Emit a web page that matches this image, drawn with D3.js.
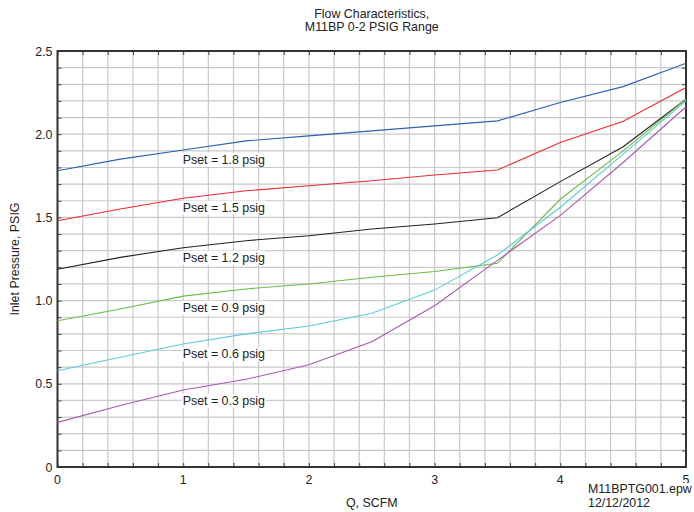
<!DOCTYPE html>
<html>
<head>
<meta charset="utf-8">
<script src="https://cdnjs.cloudflare.com/ajax/libs/d3/7.8.5/d3.min.js"></script>
<style>
  body { margin: 0; background: #fff; }
  svg text { font-family: "Liberation Sans", Arial, sans-serif; fill: #222; font-size: 12.4px; }
</style>
</head>
<body>
<div id="chart"></div>
<script>
// flow values (SCFM) where each curve was sampled
var flow = [0, 0.5, 1, 1.5, 2, 2.5, 3, 3.5, 4, 4.5, 5];

// inlet pressure per set point
var pset18 = [1.78, 1.85, 1.905, 1.96, 1.99, 2.02, 2.05, 2.08, 2.19, 2.286, 2.426];
var pset15 = [1.48, 1.55, 1.615, 1.66, 1.69, 1.72, 1.755, 1.785, 1.95, 2.078, 2.28];
var pset12 = [1.188, 1.26, 1.318, 1.36, 1.39, 1.43, 1.46, 1.498, 1.715, 1.925, 2.21];
var pset09 = [0.879, 0.95, 1.027, 1.07, 1.10, 1.14, 1.175, 1.224, 1.609, 1.90, 2.21];
var pset06 = [0.578, 0.66, 0.739, 0.80, 0.847, 0.924, 1.063, 1.274, 1.561, 1.88, 2.20];
var pset03 = [0.268, 0.37, 0.463, 0.527, 0.615, 0.753, 0.969, 1.242, 1.512, 1.83, 2.165];

var seriesNames = ["Pset = 1.8 psig", "Pset = 1.5 psig", "Pset = 1.2 psig",
                   "Pset = 0.9 psig", "Pset = 0.6 psig", "Pset = 0.3 psig"];
var seriesValues = [pset18, pset15, pset12, pset09, pset06, pset03];
var seriesColors = ["#2f5fae", "#ee2b30", "#222222", "#6cbd45", "#5ccbdc", "#a659b4"];
// where the text label sits (x, pressure)
var labelX = 1;
var labelY = [1.85, 1.562, 1.262, 0.96, 0.68, 0.40];

var xTicks = [0, 1, 2, 3, 4, 5];
var yTicks = [0, 0.5, 1.0, 1.5, 2.0, 2.5];

var margin = {top: 51, right: 8, bottom: 45, left: 57.5};
var W = 694, H = 512;
var width = W - margin.left - margin.right;
var height = H - margin.top - margin.bottom;

var svg = d3.select("#chart").append("svg")
    .attr("width", W)
    .attr("height", H);

var g = svg.append("g")
    .attr("transform", "translate(" + margin.left + "," + margin.top + ")");

var x = d3.scaleLinear().domain([0, 5]).range([0, width]);
var y = d3.scaleLinear().domain([0, 2.5]).range([height, 0]);

var xMinor = d3.range(0, 5.0001, 0.2);
var yMinor = d3.range(0, 2.5001, 0.1);

// grid
g.append("g").selectAll("line")
    .data(xMinor)
    .enter().append("line")
    .attr("x1", d => x(d)).attr("x2", d => x(d))
    .attr("y1", 0).attr("y2", height)
    .attr("stroke", "#c9c9c9").attr("stroke-width", 1.2);

g.append("g").selectAll("line")
    .data(yMinor)
    .enter().append("line")
    .attr("y1", d => y(d)).attr("y2", d => y(d))
    .attr("x1", 0).attr("x2", width)
    .attr("stroke", "#c9c9c9").attr("stroke-width", 1.2);

// inward ticks on all four sides
g.append("g").call(d3.axisBottom(x).tickValues(xMinor).tickSize(4).tickFormat(""))
    .attr("transform", "translate(0," + height + ")")
    .call(a => { a.selectAll("line").attr("y2", -4).attr("stroke", "#444"); a.select(".domain").remove(); });
g.append("g").call(d3.axisTop(x).tickValues(xMinor).tickSize(4).tickFormat(""))
    .call(a => { a.selectAll("line").attr("y2", 4).attr("stroke", "#444"); a.select(".domain").remove(); });
g.append("g").call(d3.axisLeft(y).tickValues(yMinor).tickSize(4).tickFormat(""))
    .call(a => { a.selectAll("line").attr("x2", 4).attr("stroke", "#444"); a.select(".domain").remove(); });
g.append("g").call(d3.axisRight(y).tickValues(yMinor).tickSize(4).tickFormat(""))
    .attr("transform", "translate(" + width + ",0)")
    .call(a => { a.selectAll("line").attr("x2", -4).attr("stroke", "#444"); a.select(".domain").remove(); });

// frame
g.append("rect")
    .attr("width", width).attr("height", height)
    .attr("fill", "none").attr("stroke", "#333").attr("stroke-width", 2);

// tick labels
g.append("g").selectAll("text")
    .data(xTicks)
    .enter().append("text")
    .attr("x", d => x(d)).attr("y", height + 17)
    .attr("text-anchor", "middle")
    .text(d => d);

g.append("g").selectAll("text")
    .data(yTicks)
    .enter().append("text")
    .attr("x", -5).attr("y", d => y(d) + 4.5)
    .attr("text-anchor", "end")
    .text(d => d === 0 ? "0" : d3.format(".1f")(d));

// curves
var line = d3.line()
    .x(d => x(d[0]))
    .y(d => y(d[1]));

seriesValues.forEach(function(vals, i) {
  g.append("path")
      .datum(flow.map((f, j) => [f, vals[j]]))
      .attr("fill", "none")
      .attr("stroke", seriesColors[i])
      .attr("stroke-width", 1.1)
      .attr("d", line);
});

// curve labels with white box
seriesNames.forEach(function(name, i) {
  var t = g.append("text")
      .attr("x", x(labelX) - 0.5)
      .attr("y", y(labelY[i]) + 4.5)
      .text(name);
  var bb = t.node().getBBox();
  g.insert("rect", function() { return t.node(); })
      .attr("x", bb.x - 1).attr("y", bb.y)
      .attr("width", bb.width + 2).attr("height", bb.height)
      .attr("fill", "#fff");
});

// titles
svg.append("text")
    .attr("x", margin.left + width / 2).attr("y", 17.5)
    .attr("text-anchor", "middle")
    .text("Flow Characteristics,");
svg.append("text")
    .attr("x", margin.left + width / 2).attr("y", 30.5)
    .attr("text-anchor", "middle")
    .text("M11BP 0-2 PSIG Range");

svg.append("text")
    .attr("x", margin.left + width / 2).attr("y", 506.5)
    .attr("text-anchor", "middle")
    .text("Q, SCFM");

svg.append("text")
    .attr("transform", "translate(18.5," + (margin.top + height / 2) + ") rotate(-90)")
    .attr("text-anchor", "middle")
    .text("Inlet Pressure, PSIG");

// file stamp, on a white box like the original (it clips the "5" tick label)
svg.append("rect")
    .attr("x", 587).attr("y", 483).attr("width", 107).attr("height", 28)
    .attr("fill", "#fff");
svg.append("text")
    .attr("x", 588).attr("y", 493)
    .text("M11BPTG001.epw");
svg.append("text")
    .attr("x", 588).attr("y", 506.5)
    .text("12/12/2012");
</script>
</body>
</html>
